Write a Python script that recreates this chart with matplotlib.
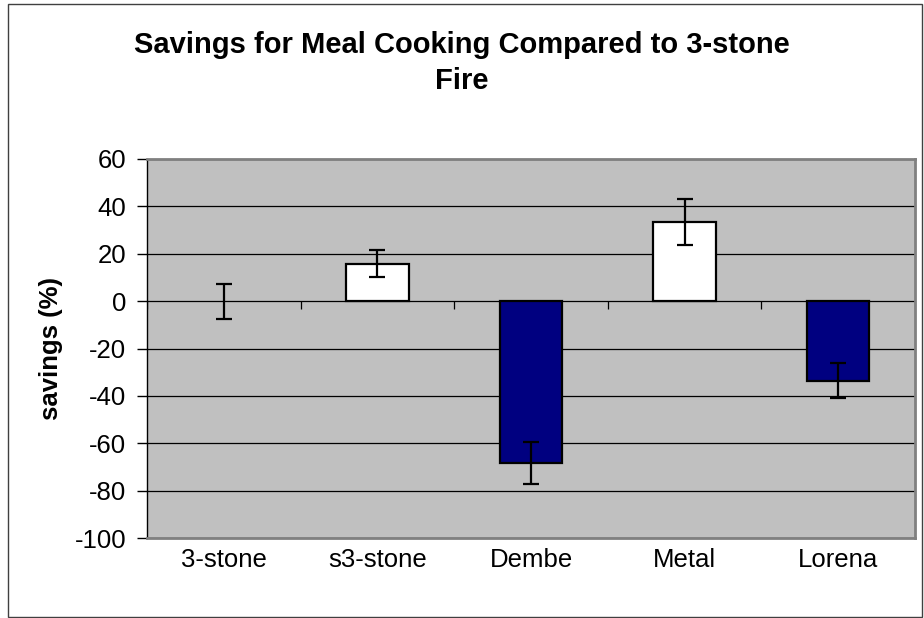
import matplotlib
matplotlib.use("Agg")
import matplotlib.pyplot as plt
from matplotlib.patches import Rectangle
import numpy as np

categories = ["3-stone", "s3-stone", "Dembe", "Metal", "Lorena"]
savings = [0.0, 15.8, -68.5, 33.4, -33.6]
errors = [7.4, 5.6, 8.9, 9.6, 7.5]
bar_colors = ["white", "white", "#000080", "white", "#000080"]

W, H = 924, 618
plt.rcParams['font.family'] = ['Liberation Sans', 'DejaVu Sans']
plt.rcParams['axes.unicode_minus'] = False
fig = plt.figure(figsize=(W / 100, H / 100), dpi=100)

# outer border
fig.patches.append(Rectangle((8 / W, 1 - 617 / H), (922 - 8) / W, (617 - 4) / H,
                             transform=fig.transFigure, fill=False,
                             edgecolor="#404040", linewidth=1.0))

left, right, top, bottom = 147, 915, 159, 538
ax = fig.add_axes([left / W, 1 - bottom / H, (right - left) / W, (bottom - top) / H])
ax.set_facecolor("#C0C0C0")

x = np.arange(len(categories))
ax.set_ylim(-100, 60)
ax.set_xlim(-0.5, len(categories) - 0.5)
ax.set_yticks(np.arange(-100, 61, 20))
ax.yaxis.grid(True, color="black", linewidth=0.9)
ax.set_axisbelow(True)

edge_widths = [1.6 if v != 0 else 0 for v in savings]
ax.bar(x, savings, width=0.405, color=bar_colors, edgecolor="black",
       linewidth=edge_widths, zorder=3)
ax.errorbar(x, savings, yerr=errors, fmt="none", ecolor="black", elinewidth=1.6,
            capsize=5.5, capthick=1.6, zorder=4)

# category separator ticks on zero line
bounds = np.arange(-0.5, len(categories), 1.0)
ax.vlines(bounds, 0, -3.4, color="black", linewidth=0.9, zorder=2)

ax.set_xticks(x)
ax.set_xticklabels(categories, fontsize=18.5)
ax.tick_params(axis="x", length=0, pad=7)
ax.tick_params(axis="y", labelsize=18.5, length=7, width=1, direction="out", pad=8)

for s in ["top", "right", "bottom"]:
    ax.spines[s].set_color("#808080")
    ax.spines[s].set_linewidth(2)
ax.spines["left"].set_color("black")
ax.spines["left"].set_linewidth(1)

ax.set_ylabel("savings (%)", fontsize=18.5, fontweight="bold")
ax.yaxis.set_label_coords(-(147 - 63) / (right - left), 0.5)

fig.text(462 / W, 1 - 53 / H, "Savings for Meal Cooking Compared to 3-stone",
         ha="center", va="baseline", fontsize=21, fontweight="bold")
fig.text(462 / W, 1 - 89 / H, "Fire",
         ha="center", va="baseline", fontsize=21, fontweight="bold")

fig.savefig("out.png", dpi=100)
